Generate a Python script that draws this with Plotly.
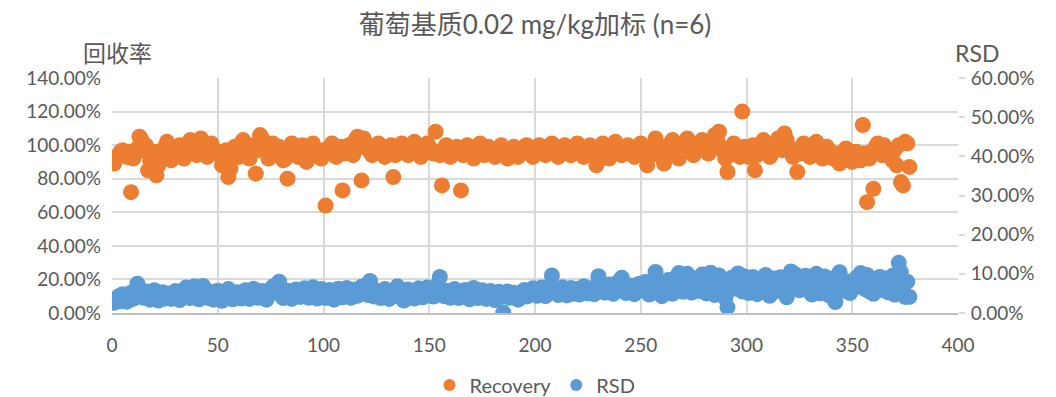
import plotly.graph_objects as go

# Recovery (%) for each spiked grape-matrix sample, in sample order
recovery = [
    89, 92, 94, 96, 97, 95, 93, 96, 72, 92, 95, 98, 105, 103, 97, 100, 85, 91, 94, 96, 82, 88, 93, 97, 99,
    102, 95, 91, 93, 96, 98, 100, 94, 92, 97, 99, 103, 101, 96, 94, 98, 104, 97, 95, 93, 99, 101, 97, 95, 96,
    94, 88, 92, 97, 81, 86, 95, 99, 96, 93, 101, 103, 98, 95, 92, 96, 100, 83, 97, 106, 104, 99, 96, 92, 98,
    101, 97, 94, 99, 96, 91, 92, 80, 95, 101, 98, 96, 93, 99, 100, 94, 90, 96, 98, 101, 97, 95, 93, 92, 97,
    64, 95, 99, 101, 96, 93, 97, 99, 73, 95, 98, 100, 96, 94, 103, 105, 99, 79, 104, 101, 98, 96, 94, 97, 99,
    101, 97, 95, 93, 96, 99, 100, 81, 94, 97, 99, 101, 98, 96, 94, 97, 99, 102, 100, 96, 93, 95, 98, 101, 99,
    97, 95, 108, 96, 94, 76, 98, 100, 96, 93, 95, 97, 99, 96, 73, 94, 97, 100, 98, 95, 92, 96, 99, 101, 97,
    94, 96, 99, 97, 95, 93, 96, 98, 100, 97, 94, 92, 95, 98, 99, 96, 93, 95, 97, 99, 100, 98, 95, 93, 96,
    98, 100, 99, 96, 94, 97, 99, 101, 98, 95, 93, 96, 98, 100, 97, 95, 94, 96, 99, 101, 98, 95, 93, 96, 98,
    100, 97, 94, 88, 96, 99, 101, 98, 95, 92, 96, 99, 102, 100, 97, 94, 96, 98, 100, 97, 95, 93, 96, 99, 101,
    98, 95, 88, 93, 97, 100, 104, 99, 96, 93, 89, 95, 98, 101, 103, 99, 96, 92, 95, 98, 102, 104, 100, 97, 94,
    96, 99, 101, 103, 100, 97, 95, 98, 101, 106, 104, 108, 99, 96, 92, 84, 94, 98, 101, 97, 95, 93, 120, 99, 96,
    93, 97, 100, 85, 94, 98, 101, 103, 99, 96, 93, 95, 98, 101, 104, 100, 97, 107, 103, 99, 96, 93, 97, 84, 95,
    98, 101, 99, 96, 93, 97, 100, 102, 98, 95, 92, 96, 99, 97, 94, 92, 95, 91, 89, 93, 96, 98, 95, 92, 90,
    94, 96, 93, 91, 112, 95, 66, 92, 96, 74, 99, 101, 97, 94, 100, 98, 95, 93, 91, 97, 88, 100, 78, 76, 102, 101, 87,
]

# Relative standard deviation (%) for the same samples
rsd = [
    2.6, 3.5, 4.2, 3.0, 4.8, 3.8, 2.9, 4.5, 5.2, 3.6, 4.0, 7.5, 6.0, 4.8, 3.9, 5.5, 4.2, 3.4, 4.6, 5.8, 4.1, 3.2, 4.9, 5.3, 3.7,
    4.4, 5.0, 3.6, 4.7, 5.6, 4.0, 3.3, 4.8, 5.9, 6.5, 4.5, 3.8, 5.2, 6.8, 4.3, 3.5, 5.0, 6.9, 4.6, 3.9, 5.4, 4.2, 3.4, 4.9, 5.7,
    4.3, 3.1, 4.6, 5.5, 6.1, 4.0, 3.5, 4.8, 5.3, 4.1, 3.7, 5.0, 5.8, 4.4, 3.6, 4.9, 6.2, 4.7, 3.9, 5.1, 5.6, 4.2, 3.4, 4.8, 5.9,
    6.7, 5.2, 7.3, 8.0, 4.5, 3.8, 5.1, 5.7, 4.4, 3.6, 5.0, 6.0, 4.7, 4.1, 5.4, 6.3, 4.9, 3.9, 5.2, 6.6, 4.3, 3.7, 5.5, 6.1, 4.6,
    3.8, 5.0, 5.9, 4.5, 3.4, 4.8, 6.2, 5.1, 4.0, 5.6, 6.4, 4.7, 3.9, 5.3, 6.0, 4.4, 5.8, 6.7, 5.0, 7.0, 4.6, 8.2, 5.4, 4.2, 5.7,
    4.9, 3.8, 5.2, 6.1, 4.4, 3.6, 5.0, 5.7, 4.3, 6.8, 5.5, 4.1, 3.2, 4.9, 6.0, 5.3, 4.5, 3.7, 5.1, 6.3, 4.8, 4.0, 5.6, 6.5, 4.7,
    5.4, 4.2, 6.0, 7.2, 9.2, 5.0, 4.3, 5.7, 4.9, 3.9, 5.3, 6.1, 4.6, 3.8, 5.5, 4.4, 5.9, 4.1, 3.5, 5.2, 6.4, 4.7, 3.8, 5.1, 5.8,
    4.3, 3.6, 4.9, 5.6, 4.0, 3.3, 4.7, 5.4, 4.1, 0.1, 4.8, 5.5, 3.9, 4.5, 5.2, 4.0, 3.4, 4.6, 5.3, 5.9, 4.2, 4.9, 5.7, 6.3, 5.0,
    4.4, 5.8, 6.5, 5.1, 4.3, 6.0, 7.0, 9.6, 6.2, 5.4, 4.6, 5.9, 6.6, 5.2, 4.5, 5.7, 6.4, 4.9, 5.5, 6.1, 4.7, 5.3, 6.8, 5.8, 5.0,
    5.6, 6.3, 4.8, 6.9, 9.4, 7.5, 6.0, 5.2, 6.7, 7.3, 5.5, 4.9, 6.2, 7.8, 6.5, 9.0, 5.8, 5.1, 6.4, 7.0, 5.6, 4.8, 6.1, 7.4, 5.9,
    6.6, 7.9, 5.3, 4.7, 6.2, 8.6, 10.5, 6.8, 5.5, 4.3, 6.0, 7.2, 8.4, 5.7, 4.9, 6.5, 9.3, 10.2, 7.1, 5.4, 6.8, 10.0, 7.6, 5.2, 6.3,
    8.8, 7.0, 5.6, 9.8, 6.4, 5.0, 7.7, 10.3, 6.1, 4.6, 8.2, 9.6, 6.9, 5.3, 3.8, 1.5, 7.4, 9.0, 6.2, 8.5, 10.1, 7.2, 5.5, 9.4, 6.6,
    5.1, 7.9, 9.2, 6.4, 4.8, 8.3, 5.7, 7.0, 9.7, 6.0, 4.4, 7.5, 8.8, 5.6, 6.7, 9.1, 7.3, 5.2, 4.0, 8.0, 10.6, 6.9, 9.9, 7.6, 5.8,
    8.4, 6.2, 9.5, 7.1, 5.4, 4.7, 8.7, 10.0, 6.6, 5.0, 7.8, 9.3, 6.3, 4.5, 7.2, 8.9, 2.8, 6.0, 10.4, 7.4, 5.7, 8.1, 6.8, 5.1, 7.7,
    6.4, 9.0, 7.5, 10.2, 8.3, 6.1, 9.7, 5.5, 7.8, 4.9, 8.6, 6.7, 9.2, 5.9, 7.1, 8.8, 5.3, 6.5, 9.5, 4.7, 7.3, 12.8, 10.5, 6.0, 4.1, 8.0, 4.1,
]

# Sample numbers on the x axis
samples = list(range(1, len(recovery) + 1))

x_ticks = [0, 50, 100, 150, 200, 250, 300, 350, 400]
left_ticks = [0, 20, 40, 60, 80, 100, 120, 140]
right_ticks = [0, 10, 20, 30, 40, 50, 60]

FONT = "Lato, 'Noto Sans CJK SC', sans-serif"
GREY_TEXT = "#595959"
GRID = "#d9d9d9"


def pct_labels(vals):
    return [f"{v:.2f}%" for v in vals]


fig = go.Figure()
fig.add_trace(go.Scatter(
    x=samples, y=recovery, name="Recovery", mode="markers",
    marker=dict(color="#ED7D31", size=16, line=dict(width=0)),
    yaxis="y",
))
fig.add_trace(go.Scatter(
    x=samples[:len(rsd)], y=rsd, name="RSD", mode="markers",
    marker=dict(color="#5B9BD5", size=16, line=dict(width=0)),
    yaxis="y2",
))

fig.update_layout(
    width=1056, height=397,
    margin=dict(l=112, r=98, t=78, b=84, autoexpand=False),
    paper_bgcolor="white", plot_bgcolor="white",
    font=dict(family=FONT, size=19, color=GREY_TEXT),
    title=dict(
        text="葡萄基质0.02 mg/kg加标 (n=6)",
        x=0.5, xref="paper", xanchor="center",
        y=1 - 25 / 397, yref="container", yanchor="middle",
        font=dict(family=FONT, size=26, color=GREY_TEXT),
    ),
    xaxis=dict(
        range=[0, 400], tickvals=x_ticks,
        showgrid=True, gridcolor=GRID, gridwidth=2,
        showline=True, linecolor="#bfbfbf", linewidth=2,
        zeroline=False, ticks="", ticklabelstandoff=14,
        tickfont=dict(size=19, color=GREY_TEXT),
    ),
    yaxis=dict(
        range=[0, 140], tickvals=left_ticks, ticktext=pct_labels(left_ticks),
        showgrid=True, gridcolor=GRID, gridwidth=2,
        zeroline=False, showline=False, ticks="", ticklabelstandoff=10,
        tickfont=dict(size=19, color=GREY_TEXT),
    ),
    yaxis2=dict(
        range=[0, 60], tickvals=right_ticks, ticktext=pct_labels(right_ticks),
        overlaying="y", side="right",
        showgrid=False, zeroline=False, showline=False,
        ticks="outside", ticklen=6, tickcolor=GRID, tickwidth=2,
        ticklabelstandoff=2,
        tickfont=dict(size=19, color=GREY_TEXT),
    ),
    legend=dict(
        orientation="h", x=0.5, xanchor="center",
        y=-(385 - 313) / 235, yanchor="middle",
        font=dict(size=20, color=GREY_TEXT),
        itemsizing="constant", itemwidth=30,
    ),
    showlegend=True,
    annotations=[
        dict(text="回收率", xref="paper", yref="paper",
             x=(117 - 112) / 846, y=(313 - 53) / 235,
             xanchor="center", yanchor="middle", showarrow=False,
             font=dict(family=FONT, size=23, color=GREY_TEXT)),
        dict(text="RSD", xref="paper", yref="paper",
             x=(977 - 112) / 846, y=(313 - 53) / 235,
             xanchor="center", yanchor="middle", showarrow=False,
             font=dict(family=FONT, size=23, color=GREY_TEXT)),
    ],
)

fig.write_html("out.html")
